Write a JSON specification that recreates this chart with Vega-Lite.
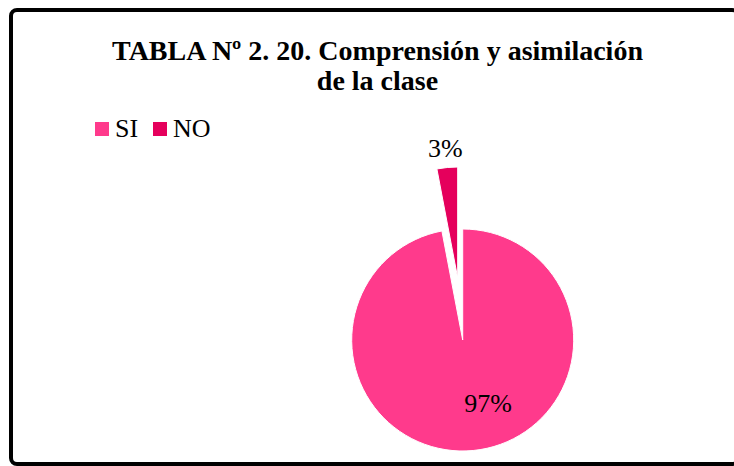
{
  "$schema": "https://vega.github.io/schema/vega-lite/v6.json",
  "width": 727,
  "height": 454,
  "autosize": {"type": "none"},
  "padding": {"left": 11, "top": 10, "right": 0, "bottom": 2},
  "background": "white",
  "view": {"stroke": "black", "strokeWidth": 4, "cornerRadius": 6, "fill": "white"},
  "config": {
    "font": "Liberation Serif"
  },
  "title": {
    "text": ["TABLA Nº 2. 20. Comprensión y asimilación", "de la clase"],
    "font": "Liberation Serif",
    "fontSize": 28,
    "fontWeight": "bold",
    "color": "black",
    "lineHeight": 30,
    "anchor": "middle",
    "offset": -86,
    "dx": 3
  },
  "data": {
    "values": [
      {"cat": "SI", "value": 97, "label": "97%", "ord": 1},
      {"cat": "NO", "value": 3, "label": "3%", "ord": 2}
    ]
  },
  "encoding": {
    "theta": {"field": "value", "type": "quantitative", "stack": true},
    "order": {"field": "ord", "type": "quantitative"}
  },
  "layer": [
    {
      "mark": {"type": "arc", "radius": 111, "xOffset": 88.2, "yOffset": 103, "stroke": "white", "strokeWidth": 1},
      "encoding": {
        "color": {
          "field": "cat", "type": "nominal",
          "scale": {"domain": ["SI", "NO"], "range": ["#FF3A8C", "#E5005C"]},
          "sort": ["SI", "NO"],
          "legend": {
            "title": null, "orient": "none", "direction": "horizontal",
            "legendX": 78, "legendY": 106, "padding": 0,
            "symbolType": "square", "symbolSize": 196, "symbolStrokeWidth": 0,
            "labelFont": "Liberation Serif", "labelFontSize": 26, "labelColor": "black",
            "labelOffset": 0, "columnPadding": 8
          }
        },
        "opacity": {"condition": {"test": "datum.cat === 'NO'", "value": 0}, "value": 1}
      }
    },
    {
      "mark": {"type": "arc", "radius": 111, "xOffset": 83.2, "yOffset": 41, "stroke": "white", "strokeWidth": 1},
      "encoding": {
        "color": {"field": "cat", "type": "nominal", "scale": {"domain": ["SI", "NO"], "range": ["#FF3A8C", "#E5005C"]}, "sort": ["SI", "NO"]},
        "opacity": {"condition": {"test": "datum.cat === 'NO'", "value": 1}, "value": 0}
      }
    },
    {
      "mark": {"type": "text", "radius": 72, "dx": 106.7, "dy": 103, "font": "Liberation Serif", "fontSize": 26, "color": "black", "align": "center", "baseline": "alphabetic"},
      "encoding": {
        "text": {"condition": {"test": "datum.cat === 'SI'", "field": "label"}, "value": ""}
      }
    },
    {
      "mark": {"type": "text", "radius": 183.5, "dx": 88.2, "dy": 103, "font": "Liberation Serif", "fontSize": 26, "color": "black", "align": "center", "baseline": "alphabetic"},
      "encoding": {
        "text": {"condition": {"test": "datum.cat === 'NO'", "field": "label"}, "value": ""}
      }
    }
  ]
}
